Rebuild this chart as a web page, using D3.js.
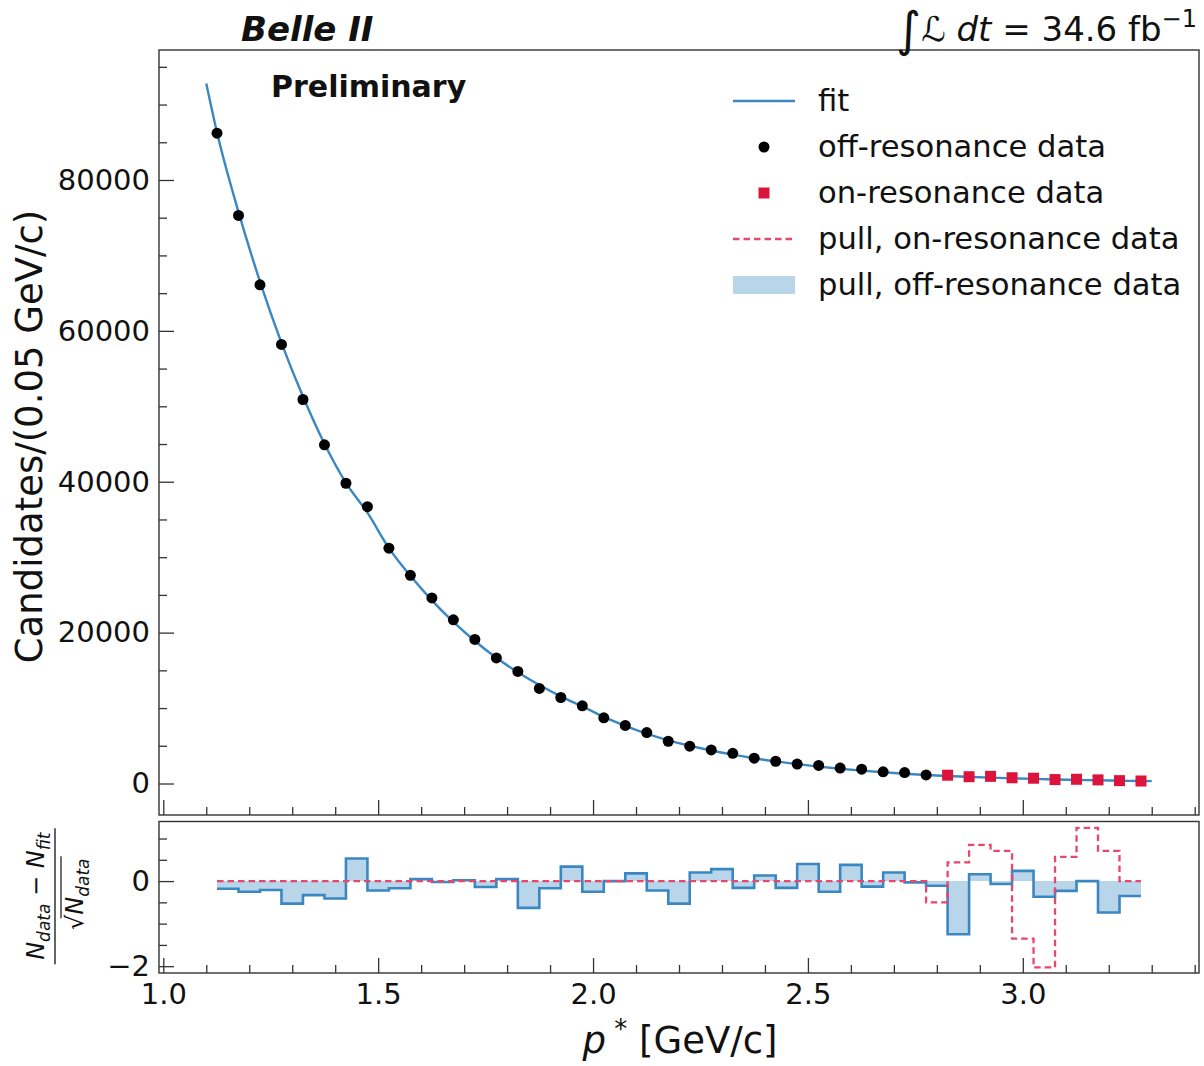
<!DOCTYPE html>
<html><head><meta charset="utf-8">
<script src="https://cdn.jsdelivr.net/npm/d3@7"></script>
<style>
body{margin:0;background:#fff}
svg{display:block}
text{font-family:"DejaVu Sans",sans-serif;fill:#111}
</style>
</head><body>
<svg id="c" width="1204" height="1066"></svg>
<script>
// ---------------- data ----------------
const offX = [1.125,1.175,1.225,1.275,1.325,1.375,1.425,1.475,1.525,1.575,1.625,1.675,1.725,1.775,1.825,1.875,1.925,1.975,2.025,2.075,2.125,2.175,2.225,2.275,2.325,2.375,2.425,2.475,2.525,2.575,2.625,2.675,2.725,2.775];
const offData = [86200,75300,66100,58200,50900,44900,39800,36700,31200,27600,24600,21700,19100,16650,14850,12600,11400,10300,8700,7700,6750,5600,4950,4450,4000,3350,2950,2570,2400,2050,1900,1550,1450,1130];
const onX = [2.825,2.875,2.925,2.975,3.025,3.075,3.125,3.175,3.225,3.275];
const onData = [1100,900,950,760,700,520,560,480,380,330];
const fitX = [1.10,1.125,1.175,1.225,1.275,1.325,1.375,1.425,1.475,1.525,1.575,1.625,1.675,1.725,1.775,1.825,1.875,1.925,1.975,2.025,2.075,2.125,2.175,2.225,2.275,2.325,2.375,2.425,2.475,2.525,2.575,2.625,2.675,2.725,2.775,2.825,2.875,2.925,2.975,3.025,3.075,3.125,3.175,3.225,3.275,3.30];
const fitY = [92800,86300,75770,66530,58410,51290,45030,39850,35900,31210,27530,24280,21410,18890,16660,14740,13050,11550,10220,8840,7650,6610,5720,5010,4380,3830,3350,2935,2570,2240,1955,1705,1485,1295,1130,1000,883,780,690,610,540,477,422,373,330,310];
const pullX = offX.concat(onX);
const pullOff = [-0.18,-0.25,-0.21,-0.53,-0.33,-0.41,0.53,-0.22,-0.17,0.05,-0.02,0.02,-0.14,0.05,-0.63,-0.17,0.34,-0.25,0.0,0.18,-0.22,-0.53,0.2,0.28,-0.16,0.13,-0.16,0.4,-0.25,0.38,-0.13,0.2,-0.03,-0.11,-1.25,0.16,-0.07,0.24,-0.37,-0.23,0.0,-0.74,-0.35,-0.35];
const pullOn = [0,0,0,0,0,0,0,0,0,0,0,0,0,0,0,0,0,0,0,0,0,0,0,0,0,0,0,0,0,0,0,0,0,-0.5,0.44,0.85,0.71,-1.35,-2.03,0.57,1.25,0.71,0.0,0.0];
const xMajor = [1.0,1.5,2.0,2.5,3.0];
const xMinor = [1.1,1.2,1.3,1.4,1.6,1.7,1.8,1.9,2.1,2.2,2.3,2.4,2.6,2.7,2.8,2.9,3.1,3.2,3.3,3.4];
const yTopMajor = [0,20000,40000,60000,80000];
const yTopMinor = [5000,10000,15000,25000,30000,35000,45000,50000,55000,65000,70000,75000,85000,90000,95000];
const yPullMajor = [-2,0];
const yPullMinor = [-1.5,-1,-0.5,0.5,1.0];
const legendItems = ["fit","off-resonance data","on-resonance data","pull, on-resonance data","pull, off-resonance data"];

// ---------------- styles ----------------
const BLUE = "#3a87c1", FILL = "#b9d5e9", RED = "#dc143c", REDDASH = "#e8476b";
const svg = d3.select("#c");

const L = 159, R = 1199;
const top1 = 50, bot1 = 815, top2 = 821.5, bot2 = 973;
const x = d3.scaleLinear().domain([0.99, 3.41]).range([L, R]);
const yT = d3.scaleLinear().domain([-4175, 97230]).range([bot1, top1]);
const yP = d3.scaleLinear().domain([-2.16, 1.40]).range([bot2, top2]);

function styleAxis(g){
  g.select(".domain").remove();
  g.selectAll(".tick line").attr("stroke","#333").attr("stroke-width",1.3);
  g.selectAll(".tick text").style("font-family","DejaVu Sans").style("font-size","29px").attr("fill","#111");
}

// ---------- top panel ----------
const gT = svg.append("g");
gT.append("path").datum(fitX.map((v,i)=>[v,fitY[i]]))
  .attr("d", d3.line().x(d=>x(d[0])).y(d=>yT(d[1])).curve(d3.curveMonotoneX))
  .attr("fill","none").attr("stroke",BLUE).attr("stroke-width",2.4);
gT.selectAll("circle.off").data(offX.map((v,i)=>[v,offData[i]])).join("circle")
  .attr("cx",d=>x(d[0])).attr("cy",d=>yT(d[1])).attr("r",5.5).attr("fill","#000");
gT.selectAll("rect.on").data(onX.map((v,i)=>[v,onData[i]])).join("rect")
  .attr("x",d=>x(d[0])-5.5).attr("y",d=>yT(d[1])-5.5).attr("width",11).attr("height",11).attr("fill",RED);

gT.append("g").attr("transform",`translate(${L},0)`)
  .call(d3.axisLeft(yT).tickValues(yTopMajor).tickFormat(d3.format("d")).tickSize(-15).tickPadding(9)).call(styleAxis);
gT.append("g").attr("transform",`translate(${L},0)`)
  .call(d3.axisLeft(yT).tickValues(yTopMinor).tickFormat("").tickSize(-8)).call(styleAxis);
gT.append("g").attr("transform",`translate(0,${bot1})`)
  .call(d3.axisBottom(x).tickValues(xMajor).tickFormat("").tickSize(-15)).call(styleAxis);
gT.append("g").attr("transform",`translate(0,${bot1})`)
  .call(d3.axisBottom(x).tickValues(xMinor).tickFormat("").tickSize(-8)).call(styleAxis);
gT.append("rect").attr("x",L).attr("y",top1).attr("width",R-L).attr("height",bot1-top1)
  .attr("fill","none").attr("stroke","#333").attr("stroke-width",1.4);

// ---------- pull panel ----------
const gP = svg.append("g");
const pOff = pullX.map((v,i)=>[v,pullOff[i]]);
const pOn = pullX.map((v,i)=>[v,pullOn[i]]);
gP.append("path").datum(pOff)
  .attr("d", d3.area().x(d=>x(d[0])).y0(yP(0)).y1(d=>yP(d[1])).curve(d3.curveStepAfter))
  .attr("fill",FILL);
gP.append("path").datum(pOff)
  .attr("d", d3.line().x(d=>x(d[0])).y(d=>yP(d[1])).curve(d3.curveStepAfter))
  .attr("fill","none").attr("stroke",BLUE).attr("stroke-width",2.6);
gP.append("path").datum(pOn)
  .attr("d", d3.line().x(d=>x(d[0])).y(d=>yP(d[1])).curve(d3.curveStepAfter))
  .attr("fill","none").attr("stroke",REDDASH).attr("stroke-width",2.3).attr("stroke-dasharray","6.5,4");

gP.append("g").attr("transform",`translate(${L},0)`)
  .call(d3.axisLeft(yP).tickValues(yPullMajor).tickFormat(d3.format("d")).tickSize(-15).tickPadding(9)).call(styleAxis);
gP.append("g").attr("transform",`translate(${L},0)`)
  .call(d3.axisLeft(yP).tickValues(yPullMinor).tickFormat("").tickSize(-8)).call(styleAxis);
gP.append("g").attr("transform",`translate(0,${bot2})`)
  .call(d3.axisBottom(x).tickValues(xMajor).tickFormat(d3.format(".1f")).tickSize(-15).tickPadding(10)).call(styleAxis);
gP.append("g").attr("transform",`translate(0,${bot2})`)
  .call(d3.axisBottom(x).tickValues(xMinor).tickFormat("").tickSize(-8)).call(styleAxis);
gP.append("rect").attr("x",L).attr("y",top2).attr("width",R-L).attr("height",bot2-top2)
  .attr("fill","none").attr("stroke","#333").attr("stroke-width",1.4);

// ---------- labels ----------
const xl = svg.append("text").attr("x",680).attr("y",1053).attr("text-anchor","middle").style("font-size","37px");
xl.append("tspan").text("p").style("font-style","italic");
xl.append("tspan").text(" *").attr("dy",-15).style("font-size","26px");
xl.append("tspan").text("  [GeV/c]").attr("dy",15);

svg.append("text").attr("transform",`translate(42,${(top1+bot1)/2 + 4}) rotate(-90)`)
  .attr("text-anchor","middle").style("font-size","37px").text("Candidates/(0.05 GeV/c)");

const fr = svg.append("g").attr("transform",`translate(55,${(top2+bot2)/2 - 1}) rotate(-90)`);
const num = fr.append("text").attr("x",0).attr("y",-11).attr("text-anchor","middle").style("font-size","24px");
num.append("tspan").text("N").style("font-style","italic");
num.append("tspan").text("data").attr("dy",6).style("font-size","17px").style("font-style","italic");
num.append("tspan").text(" − ").attr("dy",-6);
num.append("tspan").text("N").style("font-style","italic");
num.append("tspan").text("fit").attr("dy",6).style("font-size","17px").style("font-style","italic");
fr.append("line").attr("x1",-68).attr("x2",68).attr("y1",0).attr("y2",0).attr("stroke","#111").attr("stroke-width",1.3);
const den = fr.append("text").attr("x",2).attr("y",28).attr("text-anchor","middle").style("font-size","24px");
den.append("tspan").text("√");
den.append("tspan").text("N").style("font-style","italic");
den.append("tspan").text("data").attr("dy",6).style("font-size","17px").style("font-style","italic");
fr.append("line").attr("x1",-22).attr("x2",40).attr("y1",6).attr("y2",6).attr("stroke","#111").attr("stroke-width",1.2);

svg.append("text").attr("x",241).attr("y",41).style("font-size","34px").style("font-weight","bold").style("font-style","italic").text("Belle II");
svg.append("text").attr("x",271).attr("y",97).style("font-size","30px").style("font-weight","bold").text("Preliminary");

const lum = svg.append("text").attr("x",1197).attr("y",41).attr("text-anchor","end").style("font-size","34px");
lum.append("tspan").text("∫").style("font-size","48px").attr("dy",5);
lum.append("tspan").text("ℒ").style("font-style","italic").attr("dy",-5);
lum.append("tspan").text(" dt").style("font-style","italic");
lum.append("tspan").text(" = 34.6 fb");
lum.append("tspan").text("−1").style("font-size","24px").attr("dy",-14);

// ---------- legend ----------
const lg = svg.append("g");
const rowY = [101,147,193,239,285];
legendItems.forEach((t,i)=>{
  lg.append("text").attr("x",818).attr("y",rowY[i]+10).style("font-size","30.6px").text(t);
});
lg.append("line").attr("x1",733).attr("x2",795).attr("y1",rowY[0]).attr("y2",rowY[0]).attr("stroke",BLUE).attr("stroke-width",2.6);
lg.append("circle").attr("cx",764).attr("cy",rowY[1]).attr("r",5.5).attr("fill","#000");
lg.append("rect").attr("x",758.5).attr("y",rowY[2]-5.5).attr("width",11).attr("height",11).attr("fill",RED);
lg.append("line").attr("x1",733).attr("x2",795).attr("y1",rowY[3]).attr("y2",rowY[3]).attr("stroke",REDDASH).attr("stroke-width",2.3).attr("stroke-dasharray","6.5,4");
lg.append("rect").attr("x",733).attr("y",rowY[4]-9).attr("width",62).attr("height",18).attr("fill",FILL);
</script>
</body></html>
